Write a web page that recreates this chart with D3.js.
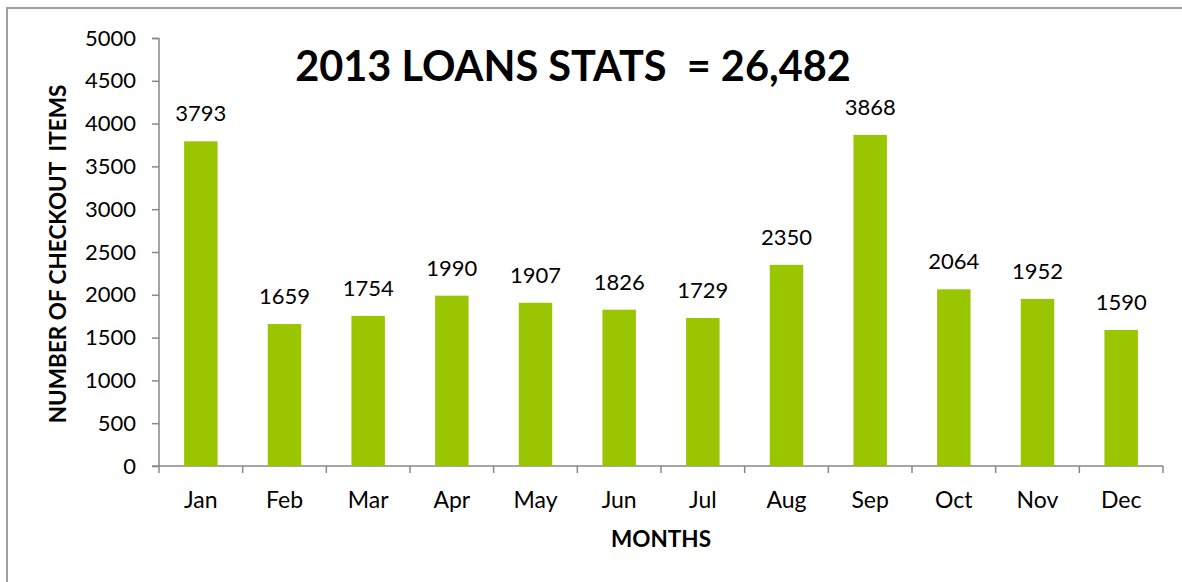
<!DOCTYPE html>
<html><head><meta charset="utf-8">
<script src="https://cdn.jsdelivr.net/npm/d3@7"></script>
<style>body{margin:0;background:#fff;}svg{display:block;font-family:Lato,"Open Sans",sans-serif;}text{white-space:pre;}</style>
</head><body>
<svg id="c" width="1182" height="582"></svg>
<script>
const months = ["Jan","Feb","Mar","Apr","May","Jun","Jul","Aug","Sep","Oct","Nov","Dec"];
const loans = [3793,1659,1754,1990,1907,1826,1729,2350,3868,2064,1952,1590];
const yTicks = [0,500,1000,1500,2000,2500,3000,3500,4000,4500,5000];
const titleText = "2013 LOANS STATS  = 26,482";
const yTitle = "NUMBER OF CHECKOUT  ITEMS";
const xTitle = "MONTHS";

const svg = d3.select("#c");
// frame
svg.append("path").attr("d","M7,582 V8 H1182").attr("fill","none").attr("stroke","#a0a0a0").attr("stroke-width",2);

const x = d3.scaleBand().domain(months).range([159,1163]).paddingInner(0.6).paddingOuter(0.3);
const y = d3.scaleLinear().domain([0,5000]).range([466,38]);

// y axis
const ya = svg.append("g").attr("transform","translate(159,0)")
  .call(d3.axisLeft(y).tickValues(yTicks).tickSize(7).tickPadding(16).tickFormat(d3.format("d")));
ya.selectAll("path,line").attr("stroke","#888").attr("stroke-width",1.5);
ya.select(".domain").attr("d","M-7,38.5H0V466");
ya.selectAll("text").attr("font-size",22).attr("fill","#000").attr("font-family","Lato,sans-serif");

// x axis
const xa = svg.append("g").attr("transform","translate(0,466)");
xa.append("line").attr("x1",152).attr("x2",1163).attr("stroke","#888").attr("stroke-width",1.5);
const step = (1163-159)/months.length;
xa.selectAll("line.tk").data(d3.range(months.length+1)).join("line").attr("class","tk")
  .attr("x1",i=>159+i*step).attr("x2",i=>159+i*step).attr("y1",0).attr("y2",7)
  .attr("stroke","#888").attr("stroke-width",1.5);
xa.selectAll("text").data(months).join("text")
  .attr("x",d=>x(d)+x.bandwidth()/2).attr("y",42).attr("text-anchor","middle")
  .attr("font-size",23).text(d=>d);

// bars
svg.selectAll("rect.bar").data(months).join("rect").attr("class","bar")
  .attr("x",d=>x(d)).attr("width",x.bandwidth())
  .attr("y",(d,i)=>y(loans[i])).attr("height",(d,i)=>466-y(loans[i]))
  .attr("fill","#99c600");

// labels
svg.selectAll("text.val").data(months).join("text").attr("class","val")
  .attr("x",d=>x(d)+x.bandwidth()/2).attr("y",(d,i)=>y(loans[i])-20)
  .attr("text-anchor","middle").attr("font-size",22).text((d,i)=>loans[i]);

// titles
svg.append("text").attr("x",573).attr("y",81).attr("text-anchor","middle")
  .attr("font-size",41.5).attr("font-weight","bold").text(titleText);
svg.append("text").attr("transform","translate(66,254) rotate(-90)").attr("text-anchor","middle")
  .attr("font-size",22.5).attr("font-weight","bold").text(yTitle);
svg.append("text").attr("x",661).attr("y",547).attr("text-anchor","middle")
  .attr("font-size",22.5).attr("font-weight","bold").text(xTitle);
</script>
</body></html>
